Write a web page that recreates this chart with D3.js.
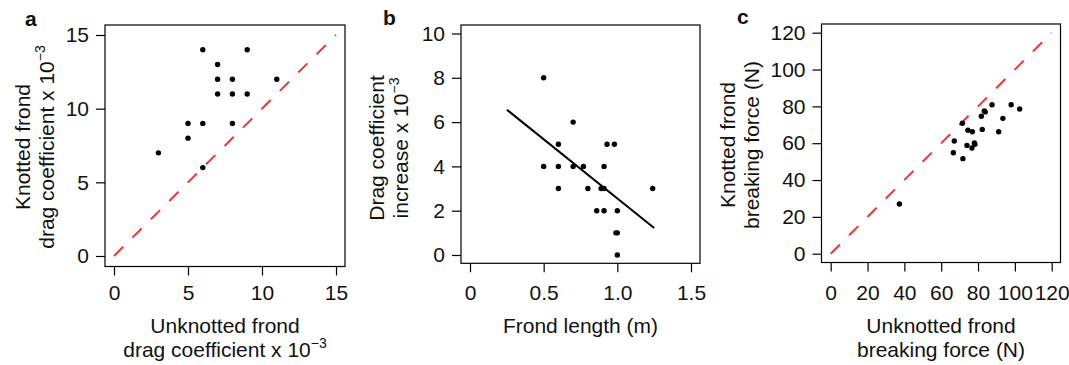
<!DOCTYPE html>
<html>
<head>
<meta charset="utf-8">
<script src="https://cdn.jsdelivr.net/npm/d3@7"></script>
<style>
  body { margin: 0; background: #fff; }
  svg text { font-family: "Liberation Sans", Arial, sans-serif; fill: #111; }
</style>
</head>
<body>
<svg id="chart" width="1069" height="365"></svg>
<script>
// panel a: drag coefficient (x 10^-3)
const aUnknotted = [6, 9, 7, 7, 8, 11, 7, 8, 9, 5, 6, 8, 5, 3, 6];
const aKnotted   = [14, 14, 13, 12, 12, 12, 11, 11, 11, 9, 9, 9, 8, 7, 6];
const aTicks = [0, 5, 10, 15];

// panel b: frond length vs drag coefficient increase
const bLength   = [0.5, 0.7, 0.6, 0.93, 0.98, 0.5, 0.6, 0.7, 0.77, 0.91, 0.6, 0.8, 0.89, 0.91, 1.24, 0.86, 0.91, 1.0, 0.99, 1.0, 1.0];
const bIncrease = [8, 6, 5, 5, 5, 4, 4, 4, 4, 4, 3, 3, 3, 3, 3, 2, 2, 2, 1, 1, 0];
const bFitX = [0.25, 1.25];
const bFitY = [6.56, 1.22];
const bXTicks = [0, 0.5, 1.0, 1.5];
const bYTicks = [0, 2, 4, 6, 8, 10];

// panel c: breaking force (N)
const cUnknotted = [37.3, 66.6, 67.1, 71.5, 71.8, 74.5, 76.9, 74, 76.7, 78, 78.3, 81.8, 82.3, 83.4, 83.9, 87.6, 91.2, 93.5, 98, 102.6];
const cKnotted   = [27, 54.8, 61.2, 70.8, 51.6, 67, 66.2, 58.8, 57.4, 60.1, 59.4, 74.6, 67.5, 77.5, 77, 80.9, 66.2, 73.5, 80.9, 78.6];
const cTicks = [0, 20, 40, 60, 80, 100, 120];

const svg = d3.select('#chart');
const FS = 21;
const TICK = 9;
const LABEL_BASE = 300;

function panel(opt) {
  const g = svg.append('g');
  const { box } = opt;

  // box
  g.append('rect')
    .attr('x', box.l).attr('y', box.t)
    .attr('width', box.r - box.l).attr('height', box.b - box.t)
    .attr('fill', 'none').attr('stroke', '#000').attr('stroke-width', 1.2);

  // axes
  const xAxis = d3.axisBottom(opt.x).tickValues(opt.xTicks)
    .tickSize(TICK).tickPadding(LABEL_BASE - box.b - TICK - 0.71 * FS)
    .tickFormat(opt.xFmt || (d => d));
  g.append('g')
    .attr('transform', `translate(0,${box.b})`)
    .call(xAxis)
    .call(s => s.select('.domain').remove())
    .call(s => s.selectAll('line').attr('stroke', '#000').attr('stroke-width', 1.2))
    .call(s => s.selectAll('text').attr('font-size', FS).attr('font-family', null).attr('fill', '#111'));

  const yAxis = d3.axisLeft(opt.y).tickValues(opt.yTicks)
    .tickSize(TICK).tickPadding(7);
  g.append('g')
    .attr('transform', `translate(${box.l},0)`)
    .call(yAxis)
    .call(s => s.select('.domain').remove())
    .call(s => s.selectAll('line').attr('stroke', '#000').attr('stroke-width', 1.2))
    .call(s => s.selectAll('text').attr('font-size', FS).attr('font-family', null).attr('fill', '#111'));

  // panel letter
  g.append('text')
    .attr('x', opt.letterX).attr('y', opt.letterY)
    .attr('font-size', 21).attr('font-weight', 'bold')
    .text(opt.letter);

  // x title lines
  const cx = (box.l + box.r) / 2;
  opt.xTitle.forEach((line, i) => {
    const t = g.append('text')
      .attr('x', cx).attr('y', 332.5 + i * 24)
      .attr('text-anchor', 'middle').attr('font-size', FS);
    addLine(t, line);
  });

  // y title lines (rotated)
  const cy = opt.yTitleCenter;
  opt.yTitle.forEach((line, i) => {
    const bx = opt.yTitleBase[i];
    const t = g.append('text')
      .attr('transform', `translate(${bx},${cy}) rotate(-90)`)
      .attr('text-anchor', 'middle').attr('font-size', FS);
    addLine(t, line);
  });

  return g;
}

function addLine(t, line) {
  if (line.sup) {
    t.append('tspan').text(line.text);
    t.append('tspan').attr('dy', -9).attr('font-size', 14).text(line.sup);
  } else {
    t.text(line.text);
  }
}

function dashed(g, x, y, lo, hi) {
  g.append('line')
    .attr('x1', x(lo)).attr('y1', y(lo))
    .attr('x2', x(hi)).attr('y2', y(hi))
    .attr('stroke', '#e8392e').attr('stroke-width', 2)
    .attr('stroke-dasharray', '13,13');
}

function dots(g, x, y, xs, ys) {
  g.selectAll(null)
    .data(xs.map((v, i) => [v, ys[i]]))
    .enter().append('circle')
    .attr('cx', d => x(d[0])).attr('cy', d => y(d[1]))
    .attr('r', 2.7).attr('fill', '#000');
}

// ---- panel a
{
  const x = d3.scaleLinear().domain([0, 15]).range([114, 336]);
  const y = d3.scaleLinear().domain([0, 15]).range([256, 35]);
  const g = panel({
    box: { l: 105, r: 345, t: 25, b: 266.5 },
    x, y, xTicks: aTicks, yTicks: aTicks,
    letter: 'a', letterX: 25, letterY: 26,
    xTitle: [{ text: 'Unknotted frond' }, { text: 'drag coefficient x 10', sup: '\u22123' }],
    yTitle: [{ text: 'Knotted frond' }, { text: 'drag coefficient x 10', sup: '\u22123' }],
    yTitleBase: [29.5, 53.5], yTitleCenter: 147
  });
  dashed(g, x, y, 0, 15);
  dots(g, x, y, aUnknotted, aKnotted);
}

// ---- panel b
{
  const x = d3.scaleLinear().domain([0, 1.5]).range([470, 691]);
  const y = d3.scaleLinear().domain([0, 10]).range([255, 33.5]);
  const g = panel({
    box: { l: 461, r: 700, t: 25, b: 263.3 },
    x, y, xTicks: bXTicks, yTicks: bYTicks,
    xFmt: d => d === 0 ? '0' : d3.format('.1f')(d),
    letter: 'b', letterX: 383, letterY: 25,
    xTitle: [{ text: 'Frond length (m)' }],
    yTitle: [{ text: 'Drag coefficient' }, { text: 'increase x 10', sup: '\u22123' }],
    yTitleBase: [384, 408], yTitleCenter: 148
  });
  g.append('line')
    .attr('x1', x(bFitX[0])).attr('y1', y(bFitY[0]))
    .attr('x2', x(bFitX[1])).attr('y2', y(bFitY[1]))
    .attr('stroke', '#000').attr('stroke-width', 2);
  dots(g, x, y, bLength, bIncrease);
}

// ---- panel c
{
  const x = d3.scaleLinear().domain([0, 120]).range([830.7, 1051.7]);
  const y = d3.scaleLinear().domain([0, 120]).range([253.7, 32.7]);
  const g = panel({
    box: { l: 821.5, r: 1060.5, t: 24, b: 262.5 },
    x, y, xTicks: cTicks, yTicks: cTicks,
    letter: 'c', letterX: 737, letterY: 24,
    xTitle: [{ text: 'Unknotted frond' }, { text: 'breaking force (N)' }],
    yTitle: [{ text: 'Knotted frond' }, { text: 'breaking force (N)' }],
    yTitleBase: [735, 759], yTitleCenter: 145
  });
  dashed(g, x, y, 0, 120);
  dots(g, x, y, cUnknotted, cKnotted);
}
</script>
</body>
</html>
